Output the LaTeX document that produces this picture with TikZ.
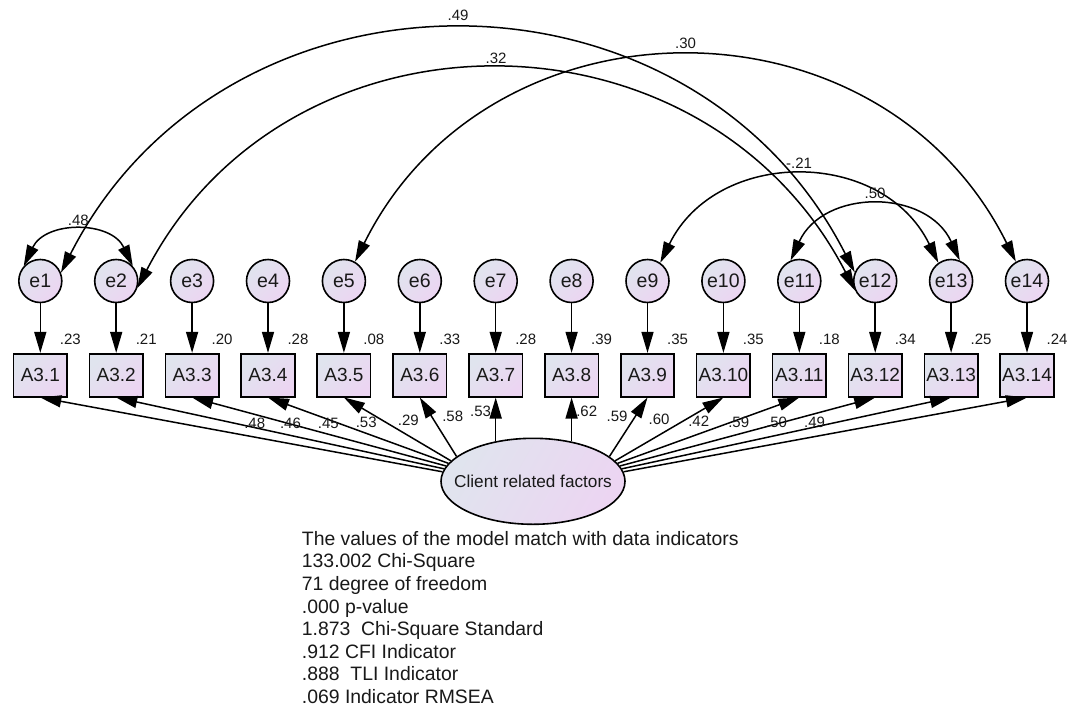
\documentclass[tikz,border=0pt]{standalone}
\usepackage{fontspec}
\setmainfont{Liberation Sans}
\usetikzlibrary{arrows.meta,shapes.geometric,calc}
\definecolor{shA}{RGB}{224,228,238}
\definecolor{shB}{RGB}{236,213,242}
\definecolor{ink}{RGB}{25,25,25}
\begin{document}
\begin{tikzpicture}[x=1pt,y=1pt,
  shaded/.style={top color=shA, bottom color=shB, shading angle=45},
  errc/.style={circle, draw=black, line width=1.6pt, minimum size=43pt, inner sep=0pt, shaded, text=ink, font=\fontsize{19.5}{20}\selectfont},
  obsbox/.style={rectangle, draw=black, line width=1.6pt, minimum width=53.5pt, minimum height=43pt, inner sep=0.5pt, shaded, text=ink, font=\fontsize{19}{20}\selectfont},
  latent/.style={ellipse, draw=black, line width=1.6pt, minimum width=184pt, minimum height=86pt, inner sep=0pt, top color=shA, bottom color=shB, shading angle=60},
  lab/.style={inner sep=0pt, text=ink, font=\fontsize{15}{16}\selectfont},
  arr/.style={line width=1.5pt, -{Triangle[length=21pt,width=12pt]}},
  dbl/.style={line width=1.5pt, {Triangle[length=21pt,width=12pt]}-{Triangle[length=21pt,width=12pt]}}
]
\fill[white] (0,0) rectangle (1075,-709);
\useasboundingbox (0,0) rectangle (1075,-709);

% error terms, indicators, squared multiple correlations
\foreach \i/\rv in {1/.23,2/.21,3/.20,4/.28,5/.08,6/.33,7/.28,8/.39,9/.35,10/.35,11/.18,12/.34,13/.25,14/.24} {
  \pgfmathsetmacro\xx{40.3+75.9*(\i-1)}
  \node[errc] (e\i) at (\xx,-281) {e\i};
  \node[obsbox] (b\i) at (\xx,-375.2) {A3.\i};
  \node[lab] (r\i) at (\xx+30,-339) {\rv};
  \draw[arr] (e\i) -- (b\i);
}

% latent factor
\node[latent] (ell) at (533,-481.3) {};
\node[inner sep=0pt, text=ink, font=\fontsize{17.2}{18}\selectfont] (elltxt) at (ell.center) {Client related factors};

% loadings
\foreach \i/\a in {1/174,2/172,3/170,4/168,5/166,6/162,9/18,10/14,11/12,12/10,13/8,14/6}
  \draw[arr] (ell.\a) -- (b\i.south);
\draw[arr] (b7.south |- ell.134) -- (b7.south);
\draw[arr] (b8.south |- ell.46) -- (b8.south);

% loading labels
\foreach \n/\x/\y/\t in {l1/254.7/423/.48, l2/290.5/423/.46, l3/328.4/423/.45, l4/366.2/422/.53,
  l5/408.3/420/.29, l6/452.7/416.7/.58, l7/480.5/411.7/.53, l8/586.7/411.7/.62,
  l9/617/416.7/.59, l10/659/419.3/.60, l11/698.7/421.7/.42, l12/738.7/422.7/.59,
  l13/776.6/422.7/.50, l14/814.5/422.7/.49}
  \node[lab] (\n) at (\x,-\y) {\t};

% covariances
\draw[dbl] (e1.138) to[out=64.4,in=115.6,looseness=1.19] (e2.42);
\draw[dbl] (e1.22) to[out=63,in=117,looseness=1.17] (e12.157);
\draw[dbl] (e2.-19) to[out=62.6,in=117.4,looseness=1.17] (e12.205);
\draw[dbl] (e5.60) to[out=63.6,in=116.4,looseness=1.18] (e14.120);
\draw[dbl] (e9.55) to[out=64,in=116,looseness=1.18] (e13.125);
\draw[dbl] (e11.113) to[out=65.4,in=114.6,looseness=1.2] (e13.67);

\node[lab] (c1) at (78.3,-220.6) {.48};
\node[lab] (c2) at (458,-15) {.49};
\node[lab] (c3) at (496,-58.3) {.32};
\node[lab] (c4) at (685.5,-43.3) {.30};
\node[lab] (c5) at (799,-163.3) {-.21};
\node[lab] (c6) at (875,-193) {.50};

% fit summary
\node[anchor=north west, align=left, inner sep=0pt, text=ink, font=\fontsize{19.4}{22.6}\selectfont] (fit) at (301.7,-531) {The values of the model match with data indicators\\
133.002 Chi-Square\\
71 degree of freedom\\
.000 p-value\\
1.873\ \ Chi-Square Standard\\
.912 CFI Indicator\\
.888\ \ TLI Indicator\\
.069 Indicator RMSEA};
\end{tikzpicture}
\end{document}
